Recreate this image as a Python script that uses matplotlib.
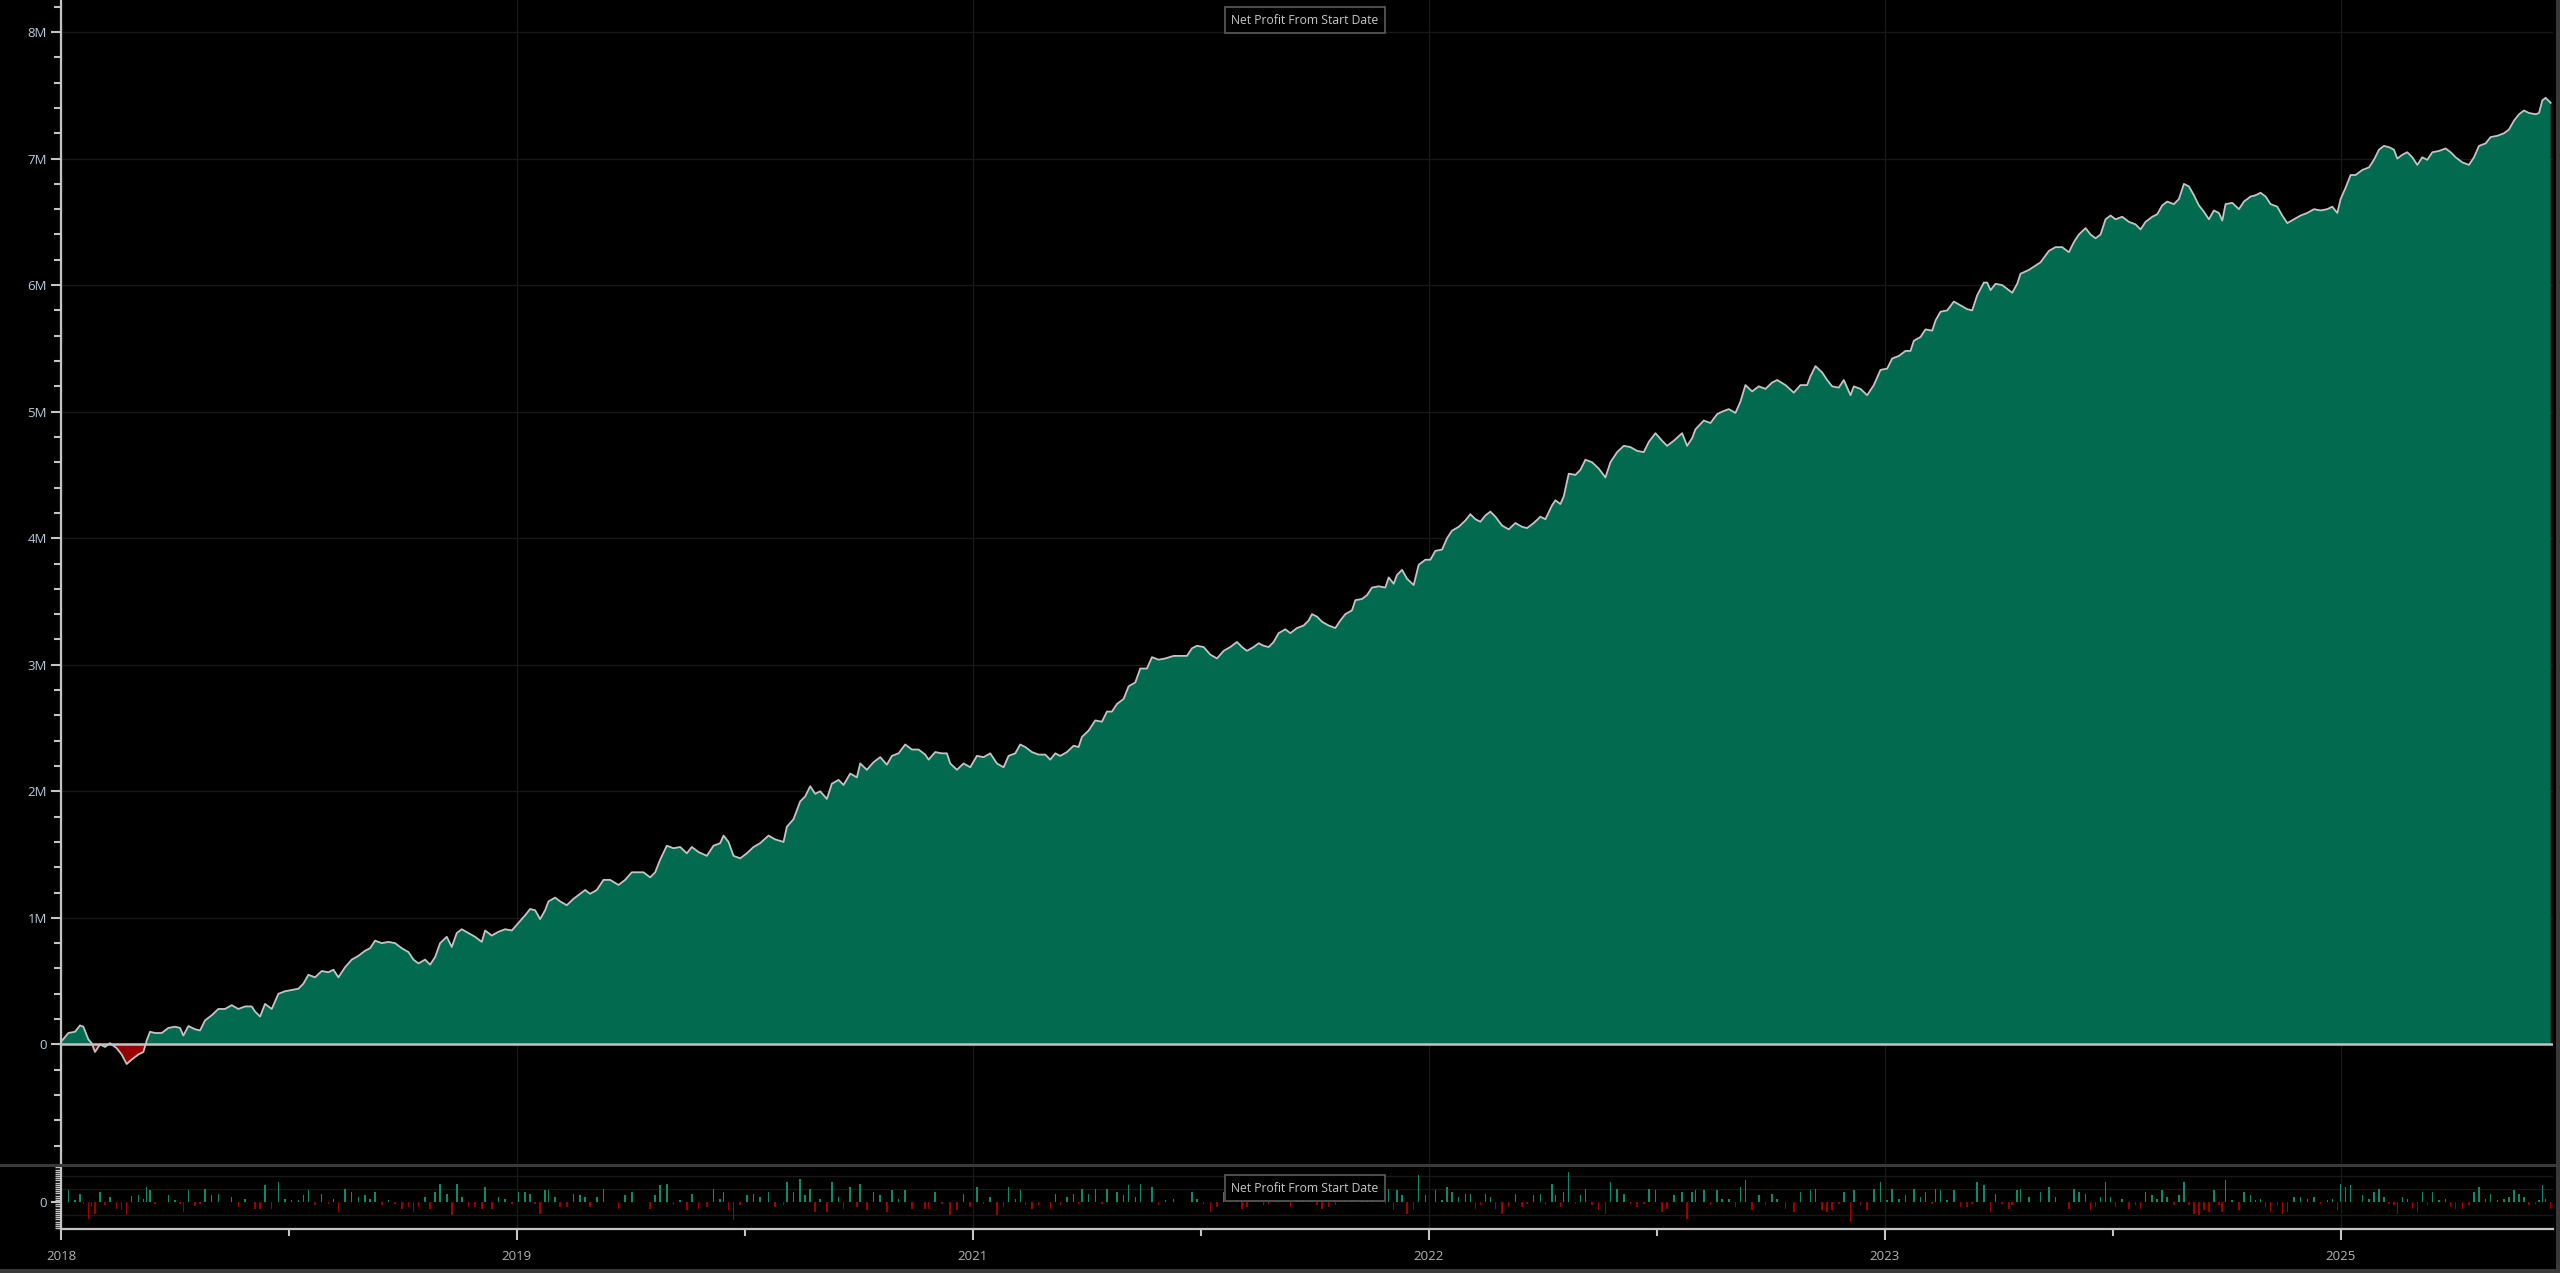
import numpy as np
import matplotlib
matplotlib.use("Agg")
import matplotlib.pyplot as plt
from matplotlib.patches import Rectangle
from matplotlib.ticker import MultipleLocator, FixedLocator, FuncFormatter

plt.rcParams["font.family"] = ["Open Sans", "DejaVu Sans"]

# bar index (x) and net profit in millions in five stretches
idx_a = [0, 22, 42, 57, 67, 82, 92, 102, 117, 132, 147, 167, 182, 197, 212, 232, 247, 257, 267, 282,
         302, 322, 342, 357, 367, 382, 402, 417, 432, 452, 472, 492, 512, 532, 552, 572, 582, 597, 612, 632,
         652, 672, 692, 712, 727, 742, 762, 782, 802, 817, 832, 852, 872, 892, 912, 927, 942, 962, 982, 1002,
         1022, 1042, 1057, 1072, 1092, 1107, 1122, 1137, 1157, 1172, 1187, 1202, 1222, 1242, 1262, 1272, 1292,
         1312, 1332, 1352, 1372, 1392, 1407, 1422, 1437, 1452, 1462, 1482]
pnl_a = [0.02, 0.09, 0.10, 0.15, 0.14, 0.04, 0.01, -0.06, 0.0, -0.02, 0.01, -0.03, -0.08, -0.155, -0.12,
         -0.08, -0.06, 0.03, 0.10, 0.09, 0.09, 0.13, 0.14, 0.13, 0.07, 0.145, 0.12, 0.11, 0.19, 0.23,
         0.28, 0.28, 0.31, 0.28, 0.30, 0.30, 0.26, 0.22, 0.32, 0.28, 0.40, 0.42, 0.43, 0.44, 0.48,
         0.55, 0.53, 0.58, 0.57, 0.59, 0.53, 0.61, 0.67, 0.70, 0.74, 0.76, 0.82, 0.80, 0.81, 0.80,
         0.76, 0.73, 0.67, 0.64, 0.67, 0.63, 0.69, 0.80, 0.85, 0.77, 0.88, 0.91, 0.88, 0.85, 0.81,
         0.90, 0.86, 0.89, 0.91, 0.90, 0.96, 1.02, 1.07, 1.06, 0.99, 1.06, 1.13, 1.16]

idx_b = [1497, 1517, 1537, 1557, 1572, 1587, 1607, 1627, 1647, 1672, 1692, 1712, 1732, 1747, 1767, 1782,
         1797, 1817, 1837, 1857, 1877, 1892, 1912, 1937, 1957, 1977, 1987, 2002, 2017, 2037, 2057, 2077,
         2097, 2122, 2142, 2167, 2177, 2197, 2217, 2232, 2247, 2262, 2277, 2297, 2312, 2332, 2347, 2367,
         2387, 2397, 2417, 2437, 2457, 2477, 2492, 2512, 2532, 2552, 2572, 2592, 2602, 2622, 2642, 2657,
         2667, 2687, 2707, 2727, 2747, 2767, 2787, 2807, 2827, 2842, 2862, 2877, 2892, 2912, 2932, 2952, 2967]
pnl_b = [1.13, 1.10, 1.15, 1.19, 1.22, 1.19, 1.22, 1.30, 1.30, 1.26, 1.30, 1.36, 1.36, 1.36, 1.32, 1.36,
         1.46, 1.57, 1.55, 1.56, 1.51, 1.56, 1.52, 1.49, 1.57, 1.59, 1.65, 1.60, 1.49, 1.47, 1.51, 1.56,
         1.59, 1.65, 1.62, 1.60, 1.72, 1.78, 1.92, 1.96, 2.04, 1.98, 2.00, 1.94, 2.06, 2.09, 2.05, 2.14,
         2.11, 2.22, 2.17, 2.23, 2.27, 2.21, 2.28, 2.30, 2.37, 2.33, 2.33, 2.29, 2.25, 2.31, 2.30, 2.30,
         2.22, 2.17, 2.22, 2.19, 2.28, 2.27, 2.30, 2.22, 2.19, 2.28, 2.30, 2.37, 2.35, 2.31, 2.29, 2.29, 2.25]

idx_c = [2982, 2997, 3017, 3037, 3052, 3062, 3082, 3102, 3122, 3137, 3152, 3167, 3187, 3202, 3222, 3237,
         3257, 3272, 3292, 3312, 3337, 3357, 3377, 3392, 3407, 3427, 3447, 3467, 3487, 3507, 3527, 3542,
         3557, 3577, 3592, 3607, 3622, 3637, 3652, 3672, 3687, 3707, 3727, 3742, 3752, 3767, 3782, 3802,
         3822, 3837, 3852, 3872, 3882, 3902, 3917, 3932, 3952, 3972, 3982, 3997, 4007, 4022, 4037, 4057,
         4072, 4092, 4107, 4122, 4142, 4157, 4172, 4192, 4212, 4227, 4242, 4257, 4272, 4287, 4302, 4322,
         4342, 4362, 4382, 4397, 4417, 4437, 4452, 4472]
pnl_c = [2.30, 2.28, 2.31, 2.36, 2.35, 2.43, 2.48, 2.56, 2.55, 2.63, 2.63, 2.69, 2.73, 2.83, 2.86, 2.97,
         2.97, 3.06, 3.04, 3.05, 3.07, 3.07, 3.07, 3.13, 3.15, 3.14, 3.08, 3.05, 3.11, 3.14, 3.18, 3.14,
         3.11, 3.14, 3.17, 3.15, 3.14, 3.18, 3.25, 3.28, 3.25, 3.29, 3.31, 3.35, 3.40, 3.38, 3.34, 3.31,
         3.29, 3.35, 3.40, 3.43, 3.51, 3.52, 3.55, 3.61, 3.62, 3.61, 3.69, 3.64, 3.71, 3.75, 3.68, 3.63,
         3.79, 3.83, 3.83, 3.90, 3.91, 4.00, 4.06, 4.09, 4.14, 4.19, 4.15, 4.13, 4.18, 4.21, 4.17, 4.10,
         4.07, 4.12, 4.09, 4.08, 4.12, 4.17, 4.15, 4.26]

idx_d = [4482, 4497, 4507, 4522, 4542, 4557, 4572, 4592, 4612, 4632, 4647, 4667, 4687, 4707, 4727, 4747,
         4762, 4782, 4802, 4817, 4837, 4862, 4877, 4892, 4902, 4927, 4947, 4967, 4982, 5002, 5022, 5037,
         5052, 5072, 5092, 5112, 5132, 5147, 5172, 5197, 5217, 5237, 5247, 5262, 5282, 5297, 5312, 5332,
         5347, 5367, 5377, 5397, 5417, 5437, 5457, 5477, 5492, 5512, 5532, 5547, 5557, 5577, 5592, 5612,
         5622, 5637, 5657, 5677, 5697, 5717, 5732, 5747, 5767, 5777, 5787, 5802, 5822, 5842, 5852, 5867,
         5877, 5902, 5937, 5962]
pnl_d = [4.30, 4.27, 4.33, 4.51, 4.50, 4.54, 4.62, 4.60, 4.55, 4.48, 4.60, 4.68, 4.73, 4.72, 4.69, 4.68,
         4.76, 4.83, 4.77, 4.73, 4.77, 4.83, 4.73, 4.79, 4.86, 4.93, 4.91, 4.98, 5.00, 5.02, 4.99, 5.08,
         5.21, 5.16, 5.20, 5.18, 5.23, 5.25, 5.21, 5.15, 5.21, 5.21, 5.28, 5.36, 5.31, 5.25, 5.20, 5.19,
         5.25, 5.13, 5.20, 5.18, 5.13, 5.21, 5.33, 5.34, 5.42, 5.44, 5.48, 5.48, 5.56, 5.59, 5.65, 5.64,
         5.72, 5.79, 5.80, 5.87, 5.84, 5.81, 5.80, 5.92, 6.02, 6.02, 5.96, 6.01, 6.00, 5.96, 5.94, 6.01,
         6.09, 6.12, 6.18, 6.27]

idx_e = [5982, 6002, 6022, 6037, 6052, 6072, 6087, 6102, 6117, 6132, 6147, 6162, 6182, 6202, 6222, 6237,
         6252, 6272, 6287, 6302, 6317, 6337, 6352, 6367, 6382, 6397, 6412, 6427, 6442, 6457, 6472, 6482,
         6492, 6512, 6532, 6547, 6567, 6582, 6597, 6612, 6627, 6647, 6662, 6677, 6697, 6717, 6737, 6757,
         6777, 6797, 6812, 6827, 6837, 6852, 6867, 6882, 6902, 6922, 6937, 6952, 6967, 6982, 6997, 7007,
         7022, 7037, 7052, 7067, 7082, 7097, 7112, 7132, 7152, 7167, 7182, 7202, 7222, 7237, 7252, 7272,
         7287, 7307, 7327, 7342, 7357, 7372, 7387, 7402, 7422, 7432, 7442, 7452, 7467]
pnl_e = [6.30, 6.30, 6.26, 6.34, 6.40, 6.45, 6.40, 6.37, 6.40, 6.52, 6.55, 6.52, 6.54, 6.50, 6.48, 6.44,
         6.50, 6.54, 6.56, 6.63, 6.66, 6.64, 6.68, 6.80, 6.78, 6.71, 6.63, 6.58, 6.52, 6.59, 6.57, 6.51,
         6.64, 6.65, 6.60, 6.66, 6.70, 6.71, 6.73, 6.70, 6.64, 6.62, 6.55, 6.49, 6.52, 6.55, 6.57, 6.60,
         6.59, 6.60, 6.62, 6.57, 6.68, 6.77, 6.87, 6.87, 6.91, 6.93, 6.99, 7.07, 7.10, 7.09, 7.07, 7.00,
         7.03, 7.05, 7.01, 6.95, 7.01, 6.99, 7.05, 7.06, 7.08, 7.05, 7.01, 6.97, 6.95, 7.01, 7.10, 7.12,
         7.17, 7.18, 7.20, 7.23, 7.30, 7.35, 7.38, 7.36, 7.35, 7.36, 7.46, 7.48, 7.44]

year_labels = ["2018", "2019", "2021", "2022", "2023", "2025"]
year_step = 1367.4  # bars between labelled ticks
title = "Net Profit From Start Date"

for i_, p_ in [(idx_a, pnl_a), (idx_b, pnl_b), (idx_c, pnl_c), (idx_d, pnl_d), (idx_e, pnl_e)]:
    assert len(i_) == len(p_), (len(i_), len(p_))

x = np.array(idx_a + idx_b + idx_c + idx_d + idx_e, dtype=float)
y = np.array(pnl_a + pnl_b + pnl_c + pnl_d + pnl_e)

# per-step change for the lower panel
dx = x[1:]
dy = np.diff(y)

GREEN = "#026a4f"
RED = "#960000"
LINE = "#c4c4c4"
GRID = "#181818"
FRAME = "#3a3a3a"
TXT_Y = "#b9c9da"
TXT_X = "#b4b4b4"

W, H = 2560, 1273
fig = plt.figure(figsize=(W / 100, H / 100), dpi=100, facecolor="black")

x0, x1 = 61, 2553
ax = fig.add_axes([x0 / W, 1 - 1165 / H, (x1 - x0) / W, 1165 / H])
ax2 = fig.add_axes([x0 / W, 1 - 1229 / H, (x1 - x0) / W, (1229 - 1167) / H])

xmax = 7474
major = [i * year_step for i in range(len(year_labels))]
minor = [(i + 0.5) * year_step for i in range(len(year_labels))]

for a in (ax, ax2):
    a.set_facecolor("black")
    a.set_xlim(0, xmax)
    for s in ("top", "right", "bottom"):
        a.spines[s].set_visible(False)
    a.spines["left"].set_color(LINE)
    a.spines["left"].set_linewidth(1.6)
    a.xaxis.set_major_locator(FixedLocator(major))
    a.xaxis.set_minor_locator(FixedLocator(minor))
    a.grid(True, which="major", color=GRID, linewidth=1.0)
    a.set_axisbelow(True)

# main panel
ax.fill_between(x, y, 0, where=y >= 0, interpolate=True, color=GREEN, linewidth=0)
ax.fill_between(x, y, 0, where=y <= 0, interpolate=True, color=RED, linewidth=0)
ax.axhline(0, color=LINE, linewidth=1.8, zorder=3)
ax.plot(x, y, color=LINE, linewidth=1.3, zorder=4)
ax.set_ylim(-0.953, 8.253)
ax.yaxis.set_major_locator(MultipleLocator(1))
ax.yaxis.set_minor_locator(MultipleLocator(0.2))
ax.yaxis.set_major_formatter(FuncFormatter(lambda v, p: "0" if abs(v) < 1e-9 else f"{v:.0f}M"))
ax.tick_params(axis="y", which="major", length=7, width=1.5, color=LINE, labelcolor=TXT_Y,
               labelsize=9.5, pad=3)
ax.tick_params(axis="y", which="minor", length=5, width=1.5, color=LINE)
ax.tick_params(axis="x", which="both", length=0, labelbottom=False)

# lower panel: step changes
bar_cols = np.where(dy >= 0, "#0c8a6a", "#a00000")
ax2.bar(dx, dy, width=4.5, color=bar_cols, linewidth=0, zorder=2)
ax2.set_ylim(-0.162, 0.21)
ax2.yaxis.set_major_locator(FixedLocator([0]))
ax2.yaxis.set_minor_locator(MultipleLocator(0.013))
ax2.set_yticklabels(["0"])
ax2.grid(False, axis="y")
for gy in (-0.078, 0.078, 0.156):
    ax2.axhline(gy, color=GRID, linewidth=1.0, zorder=1)
ax2.spines["bottom"].set_visible(True)
ax2.spines["bottom"].set_color(LINE)
ax2.spines["bottom"].set_linewidth(1.6)
ax2.tick_params(axis="y", which="major", length=7, width=1.5, color=LINE, labelcolor=TXT_Y,
                labelsize=9.5, pad=3)
ax2.tick_params(axis="y", which="minor", length=4, width=1.0, color=LINE)
ax2.set_xticks(major)
ax2.set_xticklabels(year_labels)
ax2.tick_params(axis="x", which="major", length=8, width=1.5, color=LINE, labelcolor=TXT_X,
                labelsize=9.5, pad=7)
ax2.tick_params(axis="x", which="minor", length=5, width=1.5, color=LINE)

# frame bands of the surrounding window
for (fx, fy, fw, fh) in [(0, 1163.5, W, 3), (0, 1269, W, 4), (2556, 0, 4, H)]:
    fig.patches.append(Rectangle((fx / W, 1 - (fy + fh) / H), fw / W, fh / H,
                                 transform=fig.transFigure, facecolor=FRAME, edgecolor="none"))

# title boxes
box = dict(boxstyle="square,pad=0.55", facecolor="black", edgecolor="#5c5c5c", linewidth=1.2)
fig.text(1305 / W, 1 - 20 / H, title, ha="center", va="center", color="#c8c8c8",
         fontsize=8.7, bbox=box)
fig.text(1305 / W, 1 - 1188 / H, title, ha="center", va="center", color="#c8c8c8",
         fontsize=8.7, bbox=box)

fig.savefig("out.png", dpi=100, facecolor="black")
